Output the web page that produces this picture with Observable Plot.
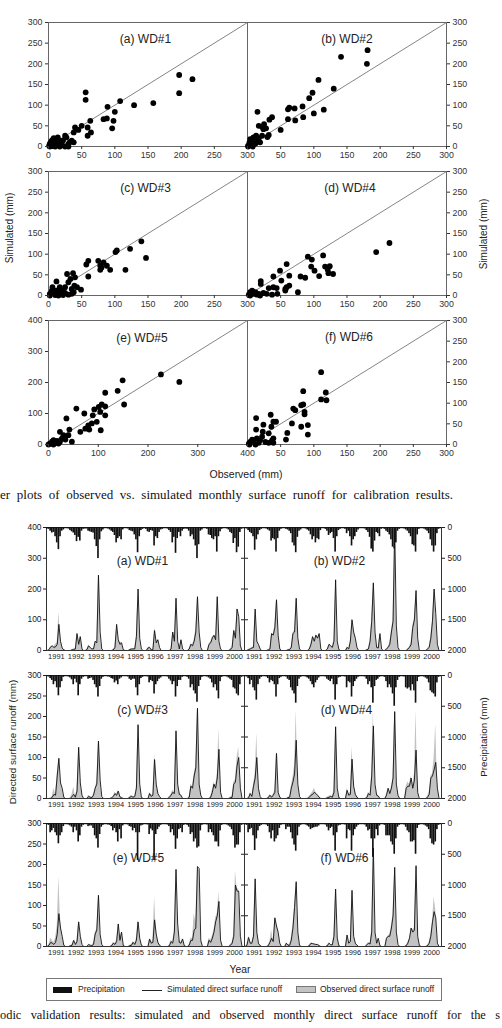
<!DOCTYPE html>
<html><head><meta charset="utf-8">
<script src="https://cdn.jsdelivr.net/npm/d3@7"></script>
<script src="https://cdn.jsdelivr.net/npm/@observablehq/plot@0.6"></script>
<style>
body{margin:0;background:#fff;}
#root{position:relative;width:502px;height:1028px;overflow:hidden;font-family:"Liberation Sans",Arial,sans-serif;color:#222;}
.lbl{position:absolute;white-space:nowrap;line-height:1;}
.cap{position:absolute;font-family:"Liberation Serif","Times New Roman",serif;font-size:13px;line-height:16px;text-align:justify;text-align-last:justify;color:#111;}
</style></head>
<body><div id="root"></div>
<script>
// ---------- scatter data (observed, simulated), mm ----------
const sc1Obs=[56,56,108,89,100,63,98,96,83,88,50,40,45,38,59,59,64,129,158,197,217,197,1,2,5,7,8,12,15,17,20,22,25,27,30,32,17,10,25,2,30,35,38,14,4,9,11,19,3,6];
const sc1Sim=[131,113,110,96,84,62,62,44,66,68,50,46,40,34,46,26,34,100,105,173,163,129,2,7,14,18,20,6,10,14,6,15,26,22,6,10,0,0,0,0,0,14,10,22,12,4,9,3,5,1];
const sc2Obs=[181,180,141,107,98,93,130,83,61,63,71,115,100,84,72,61,50,37,33,15,17,22,25,28,24,30,32,22,19,1,3,4,6,9,12,14,8,1,17,5,13];
const sc2Sim=[233,200,217,161,130,117,140,97,90,94,92,89,80,71,63,66,40,71,65,84,50,48,54,44,42,23,28,26,10,2,10,18,14,22,7,14,0,0,20,6,26];
const sc3Obs=[140,123,103,101,147,116,93,75,83,78,80,78,88,60,57,60,28,37,40,33,30,39,43,49,35,25,12,17,12,2,5,7,10,17,20,22,25,30,2,15,6,35,38];
const sc3Sim=[131,113,109,105,91,62,62,84,80,72,68,62,72,84,75,46,52,54,44,40,32,24,20,14,16,20,34,20,12,4,12,8,1,4,12,1,6,2,0,0,20,4,8];
const sc4Obs=[214,194,114,91,97,59,96,101,117,124,121,122,129,108,80,87,63,49,51,39,20,20,59,63,57,57,76,39,44,32,29,45,17,2,4,7,9,12,14,4,19,24,37];
const sc4Sim=[127,105,97,94,87,76,70,60,70,71,62,54,52,47,46,43,48,60,36,46,35,28,20,24,12,16,8,20,18,18,4,4,4,2,8,12,4,8,2,0,0,6,2];
const sc5Obs=[226,263,149,139,114,152,114,114,107,101,104,92,89,97,87,80,82,74,72,56,64,105,36,42,40,23,30,34,47,27,3,7,10,13,17,20,0,23,10];
const sc5Sim=[226,202,207,173,167,129,123,94,129,121,105,113,94,73,68,62,48,51,100,116,41,46,84,48,30,41,30,16,9,19,3,9,14,5,12,3,0,9,0];
const sc6Obs=[111,84,118,111,119,84,81,69,72,86,86,67,81,91,91,60,58,35,13,13,24,36,39,43,23,32,22,39,2,4,7,9,14,17,19,12,27,32,39,3,37];
const sc6Sim=[175,129,126,109,107,97,95,87,83,79,73,51,43,47,24,28,12,72,64,36,48,43,55,55,31,27,19,15,2,6,12,9,15,4,10,0,6,4,4,0,10];
const ticks300=[0,50,100,150,200,250,300];
const ticks400=[0,100,200,300,400];

// ---------- monthly time series 1991-2000 ----------
const years=[1991,1992,1993,1994,1995,1996,1997,1998,1999,2000];
const preA=[25,30,60,90,80,150,250,360,150,60,40,20, 20,25,50,70,90,130,230,160,220,60,30,25, 25,60,70,80,90,200,310,505,200,70,40,20, 20,25,40,60,80,130,250,180,150,200,40,20, 20,25,50,60,70,120,200,410,150,50,30,20, 30,70,80,50,60,300,150,180,80,40,30,20, 20,25,50,80,250,160,420,180,80,150,60,30, 25,30,60,150,120,200,300,505,280,60,40,20, 20,30,120,130,180,200,150,400,150,70,30,20, 20,25,40,80,100,260,180,410,320,80,30,20];
const obsA=[0,2,10,15,12,20,25,125,35,10,3,0, 0,0,0,3,5,8,58,25,48,6,0,0, 3,18,12,5,6,30,28,248,55,5,0,0, 0,0,0,0,3,12,80,40,25,28,3,0, 0,0,3,6,6,8,50,195,45,5,0,0, 0,10,12,3,5,75,30,35,10,0,0,0, 0,0,0,5,60,30,170,30,5,35,5,0, 0,0,6,22,18,35,70,172,65,10,0,0, 0,0,22,28,45,45,40,178,35,5,0,0, 0,0,0,5,12,68,45,138,112,20,0,0];
const simA=[0,3,12,15,10,12,20,85,30,8,2,0, 0,0,0,2,3,5,55,20,45,5,0,0, 3,15,10,5,5,30,25,245,60,5,0,0, 0,0,0,0,2,10,85,35,20,25,3,0, 0,0,3,5,5,5,45,200,40,5,0,0, 0,8,10,2,3,65,25,35,10,0,0,0, 0,0,0,5,60,30,170,30,5,35,5,0, 0,0,5,20,15,30,60,175,60,10,0,0, 0,0,20,25,40,50,35,175,30,5,0,0, 0,0,0,3,10,65,40,135,110,15,0,0];
const preB=[20,25,50,80,100,150,370,200,120,50,30,20, 20,25,40,60,220,180,200,400,180,60,30,20, 20,30,40,60,100,250,300,410,160,60,40,20, 20,25,40,60,120,200,150,250,180,200,50,20, 20,30,60,130,100,80,180,400,150,50,30,20, 20,30,100,60,150,300,200,150,80,40,20,20, 20,25,50,80,160,350,400,220,80,100,150,30, 20,30,60,80,120,200,320,350,250,60,30,20, 20,25,40,60,100,150,280,300,400,120,30,20, 20,25,40,60,100,200,300,400,300,100,30,20];
const obsB=[0,0,4,6,10,12,130,35,22,6,0,0, 0,0,3,6,55,52,80,168,55,6,0,0, 0,0,3,4,12,58,65,172,45,6,0,0, 0,0,0,6,22,48,32,52,42,56,6,0, 0,0,6,20,18,12,35,225,35,3,0,0, 0,0,12,6,35,105,65,45,12,0,0,0, 0,0,3,6,32,98,222,65,12,10,55,5, 0,0,6,12,25,65,100,395,75,10,0,0, 0,0,0,6,12,25,80,105,198,42,0,0, 0,0,0,6,12,45,98,200,125,22,0,0];
const simB=[0,0,3,5,8,10,135,30,20,5,0,0, 0,0,2,5,55,50,75,165,50,5,0,0, 0,0,2,3,10,55,60,170,40,5,0,0, 0,0,0,5,20,45,30,50,40,55,5,0, 0,0,5,20,15,10,30,230,30,3,0,0, 0,0,10,5,30,100,60,40,10,0,0,0, 0,0,2,5,30,95,220,60,10,8,55,5, 0,0,5,10,20,60,95,395,80,10,0,0, 0,0,0,5,10,20,75,100,195,40,0,0, 0,0,0,5,10,40,95,200,120,20,0,0];
const preC=[20,25,50,80,150,100,200,330,200,100,30,20, 20,25,40,70,150,60,120,330,150,60,30,20, 20,60,50,40,80,150,200,350,180,60,30,20, 20,25,30,50,60,120,90,150,60,40,20,20, 20,25,60,80,60,60,200,330,150,50,30,20, 20,25,120,80,100,300,150,100,60,40,20,20, 20,25,60,90,150,100,350,180,80,80,30,20, 20,30,60,200,150,250,300,435,180,80,30,20, 20,25,40,60,120,200,150,250,380,100,30,20, 20,25,40,60,80,200,220,300,330,150,30,20];
const obsC=[0,0,2,5,25,10,60,100,40,25,3,0, 0,0,2,10,28,5,20,125,40,10,0,0, 0,8,5,3,10,25,40,145,50,5,0,0, 0,0,0,2,5,15,10,20,5,2,0,0, 0,0,5,8,5,5,30,185,40,5,0,0, 0,0,15,8,10,110,40,15,5,0,0,0, 0,0,5,10,20,15,168,40,15,10,0,0, 0,0,5,35,30,60,80,220,40,10,0,0, 0,0,0,5,20,40,30,60,170,20,0,0, 0,0,0,3,5,40,45,100,125,30,0,0];
const simC=[0,0,0,3,10,8,55,98,38,25,3,0, 0,0,0,5,10,3,18,125,38,8,0,0, 0,5,3,2,8,25,35,140,45,5,0,0, 0,0,0,2,5,12,8,18,4,2,0,0, 0,0,3,5,3,5,25,180,35,3,0,0, 0,0,12,5,8,95,35,12,5,0,0,0, 0,0,3,8,15,12,165,35,10,8,0,0, 0,0,3,30,25,55,75,220,35,8,0,0, 0,0,0,3,15,35,25,50,120,15,0,0, 0,0,0,2,3,35,40,80,100,25,0,0];
const preD=[20,25,50,150,80,200,250,400,150,60,30,20, 20,25,50,120,80,100,150,350,150,50,30,20, 20,25,60,80,200,250,300,450,180,60,30,20, 20,25,40,60,100,150,200,120,80,40,20,20, 20,25,60,80,100,60,150,400,150,40,30,20, 20,25,200,100,120,350,180,100,60,30,20,20, 20,25,60,150,100,200,450,180,80,60,30,20, 20,30,100,200,150,200,300,500,200,80,30,20, 20,25,200,220,200,250,150,250,450,100,30,20, 20,25,40,60,120,250,280,300,350,120,30,20];
const obsD=[0,0,2,15,5,35,60,160,30,5,0,0, 0,0,3,10,5,10,20,115,20,5,0,0, 0,0,3,5,30,50,80,215,40,5,0,0, 0,0,2,5,10,15,25,15,10,5,0,0, 0,0,3,5,8,5,20,170,30,3,0,0, 0,0,25,10,15,126,40,15,5,0,0,0, 0,0,3,15,10,60,215,40,10,8,0,0, 0,0,10,25,15,30,50,215,40,10,0,0, 0,0,30,40,35,55,30,60,215,20,0,0, 0,0,0,5,15,55,60,100,181,30,0,0];
const simD=[0,0,2,12,5,30,50,100,25,5,0,0, 0,0,2,8,3,8,15,110,15,3,0,0, 0,0,2,3,25,40,60,142,35,5,0,0, 0,0,0,3,8,10,15,12,8,3,0,0, 0,0,2,3,5,3,15,175,25,2,0,0, 0,0,20,8,10,96,30,10,3,0,0,0, 0,0,2,12,8,55,177,35,8,6,0,0, 0,0,8,25,12,25,50,212,35,8,0,0, 0,0,25,30,30,50,25,45,118,15,0,0, 0,0,0,3,10,50,55,70,88,25,0,0];
const preE=[20,30,150,120,80,150,200,330,200,150,50,20, 20,25,40,60,150,60,120,300,200,60,30,20, 20,50,40,40,80,200,250,400,180,60,30,20, 20,25,30,50,120,80,150,300,100,250,40,20, 20,25,50,60,120,80,150,600,150,40,30,20, 20,25,180,90,120,600,180,100,60,30,20,20, 20,25,50,150,100,200,420,250,100,80,150,30, 20,30,60,180,150,300,250,400,380,120,30,20, 20,25,150,100,150,200,300,300,380,120,30,20, 20,25,40,60,100,200,400,350,350,150,30,20];
const obsE=[0,5,20,15,10,20,50,170,60,25,5,0, 0,0,2,5,15,5,15,62,28,5,0,0, 0,5,3,3,8,35,42,125,35,5,0,0, 0,0,0,3,10,8,15,55,20,35,5,0, 0,0,3,5,12,8,20,65,25,5,0,0, 0,0,20,10,15,120,40,15,5,0,0,0, 0,0,3,15,10,40,190,60,15,10,20,3, 0,0,5,20,20,80,60,195,185,20,0,0, 0,0,20,15,25,40,70,80,135,20,0,0, 0,0,0,5,10,30,185,140,140,30,0,0];
const simE=[0,3,10,8,5,10,30,80,45,25,3,0, 0,0,2,3,15,5,12,60,25,5,0,0, 0,5,3,2,5,30,40,125,30,5,0,0, 0,0,0,2,8,5,12,55,15,35,3,0, 0,0,2,3,10,5,15,60,20,3,0,0, 0,0,18,8,10,65,30,10,3,0,0,0, 0,0,2,12,8,35,188,55,10,8,18,2, 0,0,3,15,15,40,45,195,190,15,0,0, 0,0,15,10,20,35,60,75,110,15,0,0, 0,0,0,3,8,25,150,135,135,25,0,0];
const preF=[20,30,150,100,80,200,440,250,120,50,30,20, 20,25,50,150,250,120,300,250,200,80,30,20, 20,100,60,60,150,250,350,450,200,60,30,20, 20,25,40,60,100,80,70,60,60,40,20,20, 20,25,60,120,80,60,200,450,150,40,30,20, 20,25,250,100,120,450,200,100,60,30,20,20, 20,25,60,120,100,250,550,250,100,200,40,20, 20,30,200,200,200,300,350,500,250,60,30,20, 20,25,60,120,150,300,300,280,500,80,30,20, 20,25,40,60,100,250,330,350,300,100,30,20];
const obsF=[0,5,25,10,10,30,165,40,10,3,0,0, 0,0,3,12,40,15,70,55,40,10,0,0, 0,10,5,5,20,50,100,160,40,5,0,0, 0,0,0,3,8,8,6,5,5,3,0,0, 0,0,3,10,5,5,30,140,25,3,0,0, 0,0,30,10,15,137,30,10,5,0,0,0, 0,0,5,10,8,40,240,40,10,20,3,0, 0,0,20,25,30,50,80,193,40,5,0,0, 0,0,3,10,20,45,40,45,197,30,5,0, 0,0,0,3,10,30,60,120,90,10,0,0];
const simF=[0,3,22,8,8,25,165,35,8,2,0,0, 0,0,2,10,20,12,70,50,35,8,0,0, 0,8,3,3,15,45,95,158,35,3,0,0, 0,0,0,2,8,7,6,5,5,2,0,0, 0,0,2,8,4,4,25,140,20,2,0,0, 0,0,28,8,12,137,25,8,3,0,0,0, 0,0,4,8,6,35,240,35,8,20,2,0, 0,0,20,25,25,45,75,193,35,5,0,0, 0,0,2,8,20,45,35,40,197,25,3,0, 0,0,0,2,8,25,60,85,70,8,0,0];
const runoffTicks400=[0,100,200,300,400];
const runoffTicks300=[0,50,100,150,200,250,300];
const precipTicks=[0,500,1000,1500,2000];

// ---------- helpers ----------
const root=document.getElementById("root");
const FONT="'Liberation Sans', Arial, sans-serif";
function put(el,left,top){el.style.position="absolute";el.style.left=left+"px";el.style.top=top+"px";root.appendChild(el);}
function label(text,cx,cy,size,rot){
  const d=document.createElement("div");d.className="lbl";d.textContent=text;
  d.style.fontSize=size+"px";d.style.left=cx+"px";d.style.top=cy+"px";
  d.style.transform="translate(-50%,-50%)"+(rot?" rotate(-90deg)":"");
  root.appendChild(d);
}
const plain=d=>String(d);

function scatter(p){
  const mL=30,mR=34,mT=4,mB=22,W=199,H=124;
  const pts=p.obs.map((o,i)=>({o,s:p.sim[i]}));
  const right=p.side==="right";
  const max=p.ticks[p.ticks.length-1];
  const chart=Plot.plot({
    width:W+mL+mR,height:H+mT+mB,marginLeft:mL,marginRight:mR,marginTop:mT,marginBottom:mB,
    style:{background:"none",overflow:"visible",fontFamily:FONT,fontSize:"8.8px",color:"#333"},
    x:{domain:[0,max]},y:{domain:[0,max]},
    marks:[
      Plot.frame({stroke:"#666"}),
      Plot.line([[0,0],[max,max]],{stroke:"#777",strokeWidth:0.9}),
      Plot.dot(pts,{x:"o",y:"s",r:2.9,fill:"#000",stroke:"none"}),
      Plot.axisX({ticks:p.ticks,tickSize:3,tickPadding:2,label:null,tickFormat:d=>(right&&d===0)?"":String(d)}),
      Plot.axisY({anchor:p.side,ticks:p.ticks,tickSize:3,tickPadding:3,label:null,tickFormat:plain}),
      Plot.text([p.title],{text:d=>d,frameAnchor:"top",dy:p.dy,dx:p.dx,fontSize:12,fill:"#222"})
    ]
  });
  put(chart,p.left-mL,p.top-mT);
}

function ts(p){
  const mL=30,mR=34,mT=2,mB=16,H=123,W=p.w;
  const rows=[];
  years.forEach((yr,k)=>{for(let m=0;m<12;m++){const i=k*12+m;
    rows.push({t0:yr+m/12,t:yr+(m+0.5)/12,t1:yr+(m+1)/12,p:p.pre[i],o:p.obs[i],s:p.sim[i]});}});
  const base={width:W+mL+mR,height:H+mT+mB,marginLeft:mL,marginRight:mR,marginTop:mT,marginBottom:mB,
    style:{background:"none",overflow:"visible",fontFamily:FONT,fontSize:"8.4px",color:"#222"}};
  const right=p.side==="right";
  const c1=Plot.plot({...base,
    x:{domain:[1991,2001]},y:{domain:[0,p.yticks[p.yticks.length-1]],axis:right?null:undefined},
    marks:[
      Plot.areaY(rows,{x:"t",y:"o",fill:"#c3c3c3"}),
      Plot.lineY(rows,{x:"t",y:"s",stroke:"#111",strokeWidth:0.9}),
      Plot.frame({stroke:"#333"}),
      Plot.axisX({ticks:years.map(y=>y+0.5),tickFormat:d=>String(Math.floor(d)),tickSize:0,tickPadding:3,fontSize:7.5,label:null}),
      ...(right?[]:[Plot.axisY({anchor:"left",ticks:p.yticks,tickSize:3,tickPadding:2,label:null,tickFormat:plain})]),
      Plot.text([p.title],{text:d=>d,frameAnchor:"top",dy:p.dy,dx:p.dx,fontSize:12,fill:"#222"})
    ]});
  const axes=right?[
      Plot.axisY({anchor:"left",ticks:precipTicks,tickSize:3,tickFormat:()=>"",label:null}),
      Plot.axisY({anchor:"right",ticks:precipTicks,tickSize:3,tickPadding:3,label:null,tickFormat:plain})
    ]:[Plot.axisY({anchor:"right",ticks:precipTicks,tickSize:3,tickFormat:()=>"",label:null})];
  const c2=Plot.plot({...base,
    x:{domain:[1991,2001],axis:null},y:{domain:[0,2000],reverse:true},
    marks:[Plot.rectY(rows,{x1:"t0",x2:"t1",y1:0,y2:"p",fill:"#111"}),...axes]});
  put(c1,p.left-mL,p.top-mT);
  put(c2,p.left-mL,p.top-mT);
}

// ---------- top figure: scatter plots ----------
scatter({obs:sc1Obs,sim:sc1Sim,ticks:ticks300,side:"left",title:"(a) WD#1",left:48,top:21.7,dx:-2.5,dy:11.5});
scatter({obs:sc2Obs,sim:sc2Sim,ticks:ticks300,side:"right",title:"(b) WD#2",left:247,top:21.7,dx:0,dy:11.5});
scatter({obs:sc3Obs,sim:sc3Sim,ticks:ticks300,side:"left",title:"(c) WD#3",left:48,top:170.7,dx:-2.5,dy:12.3});
scatter({obs:sc4Obs,sim:sc4Sim,ticks:ticks300,side:"right",title:"(d) WD#4",left:247,top:170.7,dx:3,dy:12.3});
scatter({obs:sc5Obs,sim:sc5Sim,ticks:ticks400,side:"left",title:"(e) WD#5",left:48,top:320,dx:-6,dy:12.5});
scatter({obs:sc6Obs,sim:sc6Sim,ticks:ticks300,side:"right",title:"(f) WD#6",left:247,top:320,dx:2,dy:11.7});
label("Simulated (mm)",10,228,10,true);
label("Simulated (mm)",484,234,10,true);
label("Observed (mm)",246,474,10.5,false);
const cap1=document.createElement("div");cap1.className="cap";
cap1.textContent="er plots of observed vs. simulated monthly surface runoff for calibration results.";
cap1.style.left="0px";cap1.style.top="487px";cap1.style.width="453px";root.appendChild(cap1);

// ---------- bottom figure: time series ----------
ts({pre:preA,obs:obsA,sim:simA,yticks:runoffTicks400,side:"left",title:"(a) WD#1",left:46,top:527,w:198,dx:-3,dy:29});
ts({pre:preB,obs:obsB,sim:simB,yticks:runoffTicks400,side:"right",title:"(b) WD#2",left:244,top:527,w:197,dx:-3.5,dy:29});
ts({pre:preC,obs:obsC,sim:simC,yticks:runoffTicks300,side:"left",title:"(c) WD#3",left:46,top:675,w:198,dx:-3,dy:30});
ts({pre:preD,obs:obsD,sim:simD,yticks:runoffTicks300,side:"right",title:"(d) WD#4",left:244,top:675,w:197,dx:3.5,dy:30});
ts({pre:preE,obs:obsE,sim:simE,yticks:runoffTicks300,side:"left",title:"(e) WD#5",left:46,top:823,w:198,dx:-7,dy:30});
ts({pre:preF,obs:obsF,sim:simF,yticks:runoffTicks300,side:"right",title:"(f) WD#6",left:244,top:823,w:197,dx:1.5,dy:30});
label("Directed surface runoff (mm)",13,742,9.8,true);
label("Precipitation (mm)",484,737,9.8,true);
label("Year",240,970,10.3,false);

// legend
const lg=document.createElement("div");
lg.style.cssText="position:absolute;left:46px;top:978px;width:394px;height:21px;border:1px solid #777;font-size:8.5px;";
lg.innerHTML=
 '<div style="position:absolute;left:6px;top:8px;width:19px;height:6px;background:#111"></div>'+
 '<div class="lbl" style="left:31px;top:6px">Precipitation</div>'+
 '<div style="position:absolute;left:95px;top:10.5px;width:20px;height:0;border-top:1px solid #222"></div>'+
 '<div class="lbl" style="left:120px;top:6px">Simulated direct surface runoff</div>'+
 '<div style="position:absolute;left:249px;top:7px;width:18px;height:5px;background:#c3c3c3;border:1px solid #777"></div>'+
 '<div class="lbl" style="left:273px;top:6px">Observed direct surface runoff</div>';
root.appendChild(lg);
const cap2=document.createElement("div");cap2.className="cap";
cap2.textContent="odic validation results: simulated and observed monthly direct surface runoff for the s";
cap2.style.left="0px";cap2.style.top="1007px";cap2.style.width="500px";cap2.style.fontSize="12.4px";root.appendChild(cap2);
</script>
</body></html>
